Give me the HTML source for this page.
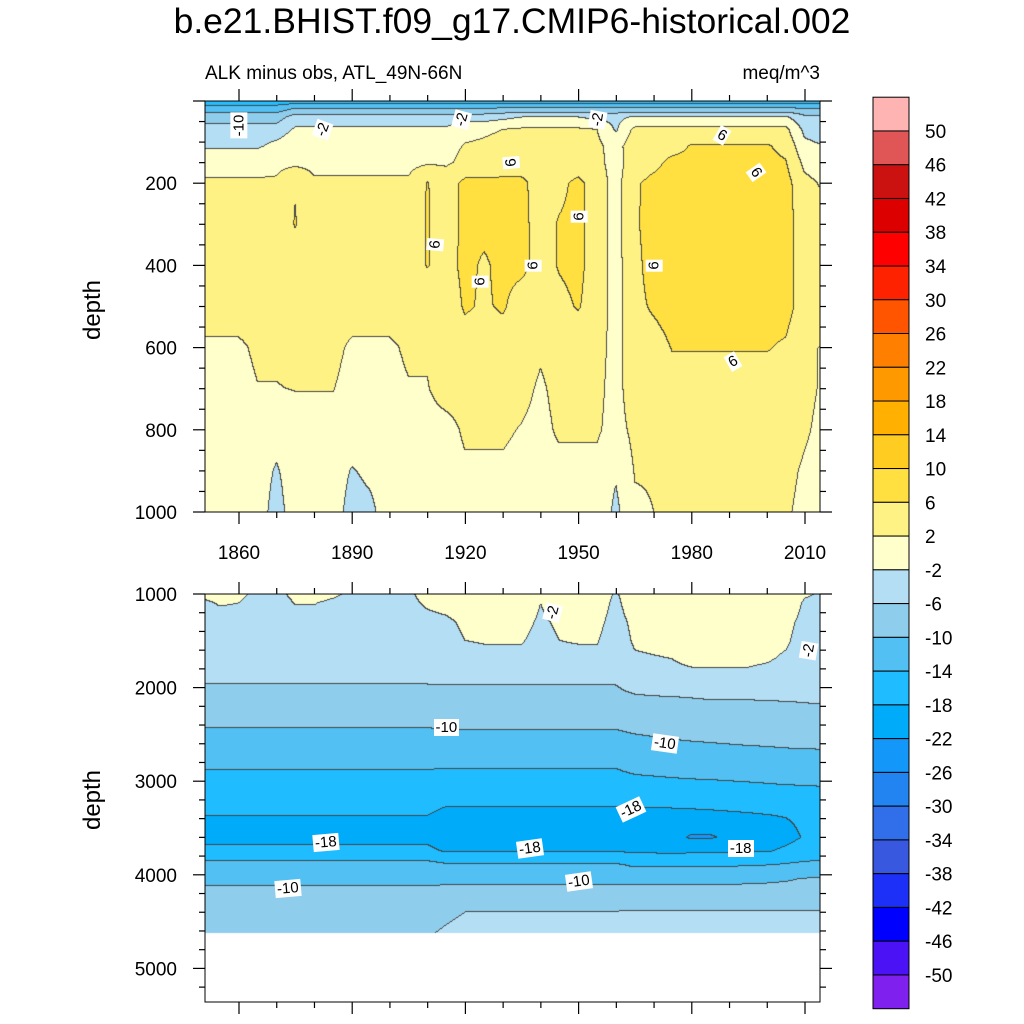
<!DOCTYPE html>
<html><head><meta charset="utf-8">
<style>
body{margin:0;width:1024px;height:1024px;background:#fff;position:relative;overflow:hidden;font-family:"Liberation Sans",sans-serif;}
.t{position:absolute;white-space:nowrap;color:#000;}
canvas{position:absolute;}
.cl{position:absolute;background:#fff;font-size:15px;padding:0 2px;line-height:17px;transform-origin:center;}
</style></head><body>
<div class="t" style="left:0;width:1024px;text-align:center;top:1px;font-size:35.5px;">b.e21.BHIST.f09_g17.CMIP6-historical.002</div>
<div class="t" style="left:205px;top:63px;font-size:19px;">ALK minus obs, ATL_49N-66N</div>
<div class="t" style="right:204px;top:63px;font-size:19px;">meq/m^3</div>
<div class="t" style="left:63px;top:296px;font-size:24px;transform:rotate(-90deg);">depth</div>
<div class="t" style="left:63px;top:786px;font-size:24px;transform:rotate(-90deg);">depth</div>
<canvas id="cTop" width="615" height="411" style="left:205px;top:101px;"></canvas>
<canvas id="cBot" width="615" height="408" style="left:205px;top:594px;"></canvas>
<svg id="ax" width="1024" height="1024" style="position:absolute;left:0;top:0;"></svg>
<div id="labels"></div>
<script>
// ---- colour levels ----
const levels=[-50,-46,-42,-38,-34,-30,-26,-22,-18,-14,-10,-6,-2,2,6,10,14,18,22,26,30,34,38,42,46,50];
const colors=["#8020ee","#4a12f5","#0000ff","#1c30f8","#3858e0","#306eea","#2284f0","#1398fa","#00acfa","#1fbcff","#52c0f2","#8fcdec","#b4def4","#ffffcc","#fff284","#ffe040","#ffcc22","#ffb000","#ff9900","#ff8000","#ff5500","#ff2200","#ff0000","#dd0000","#cc1111","#e05555","#ffb4b4"];
// ---- grid columns: years ----
const years=[1850,1855,1860,1865,1870,1875,1880,1885,1890,1895,1900,1905,1910,1915,1920,1925,1930,1935,1940,1945,1950,1955,1960,1965,1970,1975,1980,1985,1990,1995,2000,2005,2010,2015];
// ---- top panel depths & values ----
const topDepths=[0,15,40,70,110,150,200,300,400,500,600,700,800,900,1000];
const top0=[-17,-17,-17,-17,-17,-17,-17,-17,-17,-17,-17,-17,-17,-17,-17,-17,-17,-17,-17,-17,-17,-17,-17,-17,-17,-17,-17,-17,-17,-17,-17,-17,-17,-17];
const top15=[-13,-13,-13,-13,-13,-11,-11,-11,-11,-11,-11,-11,-11,-11,-11,-11,-11,-11,-11,-11,-11,-11,-11,-11,-11,-11,-11,-11,-11,-11,-11,-11,-11,-11];
const top40=[-8,-8,-8,-8,-8,-4,-4,-4,-4,-4,-4,-4,-4,-4,-4,-4,-3,-2,-2,-2,-2,-3,-3,-1.5,-1.5,-1.5,-1.5,-1.5,-1.5,-1.5,-1.5,-1.5,-5,-5];
const top70=[-4,-4,-4,-4,-4,-1.5,-1.5,-1.5,-1.5,-1.5,-1.5,-1.5,-1.5,-1.5,1,1.5,2,2.5,2.5,2.5,2.5,2,-2.5,3,3,3,3,3,3,3,3,3,-3,-4];
const top110=[-2.5,-2.5,-2.5,-2.5,-1,0.5,0.5,0.5,0.5,0.5,0.5,0.5,0.5,1,2.2,2.5,3,3,3,3,3,2.8,0.5,4.5,4.5,4.5,6.3,6.3,6.3,6.3,6.3,5,-1,-2];
const top150=[0.5,0.5,0.5,0.5,1,1,1,1,1,1,1,1,1.5,1.5,2.8,3,3.5,3.5,3.5,3.5,3.5,3,0.5,4,5,7,7,7,7,7,7,6.2,1,0];
const top200=[2.5,2.5,2.5,2.5,2.5,5.8,2.5,2.5,2.5,2.5,2.5,2.5,6.2,4,7,7,7,7,4,5,7,4,0.5,5.5,7,7.5,7.5,7.5,7.5,7.5,7.5,7.5,3,1.5];
const top300=[3.5,3.5,3.5,3.5,3.5,6.2,3.5,3.5,3.5,3.5,3.5,3.5,6.3,4,7,7,7,7,4.5,6.3,7,4,0.5,5.5,7.5,7.5,7.5,7.5,7.5,7.5,7.5,7.5,4,3.5];
const top400=[4,4,4,4,4,4,4,4,4,4,4,4,6.2,4.5,7,5.5,7,7,4.5,6.3,7,4,0.5,5,7.5,7.5,7.5,7.5,7.5,7.5,7.5,7.5,4,4];
const top500=[3.5,3.5,3.5,3.5,3.5,3.5,3.5,3.5,3.5,3.5,3.5,3.5,3.5,3.5,6.5,5.5,6.5,4,4,5,6.3,4,0.5,5,6.5,7.5,7.5,7.5,7.5,7.5,7.5,7.5,4,3.5];
const top600=[1.5,1.5,1.5,2.5,2.5,2.8,2.8,2.8,1.5,1.5,1.5,2.5,2.5,4,4,4,4,4,2.5,3.5,3.5,3.5,0.5,4.5,4.5,6.2,6.2,6.2,6.2,6.2,6.2,5.5,2.5,1.8];
const top700=[1,1,1,1.9,1.9,2.1,2.1,2.1,1,1,1,1.8,1.8,3.5,3.5,3.5,3.5,3,1.5,3,3,3,0.5,4.5,4.5,4.5,4.5,4.5,4.5,4.5,4.5,4.5,3,1.5];
const top800=[0.8,0.8,0.8,0.8,0,0.8,0.8,0.8,0.8,0.8,0.8,0.8,0.8,0.8,2.5,2.5,2.5,1.8,1,2.5,2.5,2.5,0.5,3,3,4,4,4,4,4,4,4,2.5,1];
const top900=[0.5,0.5,0.5,0.5,-2.5,0.5,0.5,0.5,-2.3,-1,0.5,0.5,0.5,0.5,1.5,1.5,1.5,1,1,1,1,1,-1.5,2.2,2.2,3,3,3,3,3,3,3,1.5,0.5];
const top1000=[0.5,0.5,0.5,0.5,-4,0.5,0.5,0.5,-4,-3,0.5,-0.5,1,1,1,1,1,1,1,1,1,1,-3,1.5,2,2.5,2.5,2.5,2.5,2.5,2.5,2.5,1,0.5];
const topRows=[top0,top15,top40,top70,top110,top150,top200,top300,top400,top500,top600,top700,top800,top900,top1000];
// ---- bottom panel depths & values ----
const botDepths=[1000,1100,1300,1500,1700,1900,2100,2300,2500,2700,2900,3100,3300,3450,3600,3750,3900,4050,4200,4400,4620];
const bot1000=[-1.5,-1,-1.5,-2.5,-2.5,-1.5,-1,-1.5,-2.5,-2.5,-2.5,-2.5,-1,-0.5,0,0.5,0.5,0.5,-1.5,-1,0,0.5,-2.5,1,1,1,1,1,1,1,1,0.5,-1.5,-2.5];
const bot1100=[-2.5,-1.8,-2,-3,-3,-1.9,-1.9,-2.5,-3,-3,-3,-2.8,-1.5,-1,-0.5,0,0.3,0.3,-2,-0.5,0,0,-3,0.5,1,1,1,1,1,1,1,0.5,-2.5,-3];
const bot1300=[-3.5,-3,-3,-3.5,-3.5,-3,-3,-3.5,-3.5,-3.5,-3.5,-3.5,-3,-2.5,-1.5,-1,-1,-1,-2.5,-1.5,-1,-1,-3.5,-1,0,0.3,0.5,0.5,0.5,0.5,0,-1,-3,-3.5];
const bot1500=[-4,-4,-4,-4,-4,-4,-4,-4,-4,-4,-4,-4,-3.8,-3,-2,-1.8,-1.8,-1.8,-3,-2,-1.8,-1.8,-4,-1.5,-1,-0.8,-0.6,-0.5,-0.5,-0.5,-0.8,-1.5,-3.5,-4];
const bot1700=[-4.5,-4.5,-4.5,-4.5,-4.5,-4.5,-4.5,-4.5,-4.5,-4.5,-4.5,-4.5,-4.3,-4,-3,-2.8,-2.8,-2.8,-3.5,-2.8,-2.8,-2.6,-4,-2.5,-2.3,-2,-1.4,-1.4,-1.4,-1.4,-1.7,-2.5,-3.8,-4];
const bot1900=[-5.5,-5.5,-5.5,-5.5,-5.5,-5.5,-5.5,-5.5,-5.5,-5.5,-5.5,-5.5,-5.5,-5.5,-5.5,-5.5,-5.5,-5.5,-5.5,-5.5,-5.5,-5.5,-5.5,-4,-3.5,-2.8,-2.8,-2.8,-2.8,-2.8,-3.2,-4,-4.2,-4.5];
const bot2100=[-7,-7,-7,-7,-7,-7,-7,-7,-7,-7,-7,-7,-7,-6.8,-6.8,-6.8,-6.8,-6.8,-6.8,-6.8,-6.8,-6.8,-6.8,-6.3,-6.1,-6,-5.9,-5.8,-5.8,-5.8,-5.7,-5.7,-5.6,-5.5];
const bot2300=[-9,-9,-9,-9,-9,-9,-9,-9,-9,-9,-9,-9,-9,-8.8,-8.8,-8.8,-8.8,-8.8,-8.8,-8.8,-8.8,-8.8,-8.8,-8,-7.6,-7.4,-7.2,-7,-7,-7,-7,-6.9,-6.8,-6.7];
const bot2500=[-10.5,-10.5,-10.5,-10.5,-10.5,-10.5,-10.5,-10.5,-10.5,-10.5,-10.5,-10.5,-10.5,-10.4,-10.4,-10.4,-10.4,-10.4,-10.4,-10.4,-10.4,-10.4,-10.4,-10,-9.8,-9.6,-9.5,-9.4,-9.3,-9.2,-9.2,-9.1,-9,-9];
const bot2700=[-12.4,-12.4,-12.4,-12.4,-12.4,-12.4,-12.4,-12.4,-12.4,-12.4,-12.4,-12.4,-12.4,-12.3,-12.3,-12.3,-12.3,-12.3,-12.3,-12.3,-12.3,-12.3,-12.3,-11.5,-11.2,-11,-10.8,-10.7,-10.6,-10.5,-10.4,-10.3,-10.3,-10.2];
const bot2900=[-14.2,-14.2,-14.2,-14.2,-14.2,-14.2,-14.2,-14.2,-14.2,-14.2,-14.2,-14.2,-14.2,-14.3,-14.3,-14.3,-14.3,-14.3,-14.3,-14.3,-14.3,-14.3,-14.3,-13.6,-13.4,-13.2,-13,-12.9,-12.8,-12.7,-12.6,-12.5,-12.5,-12.4];
const bot3100=[-16.2,-16.2,-16.2,-16.2,-16.2,-16.2,-16.2,-16.2,-16.2,-16.2,-16.2,-16.2,-16.2,-16.6,-16.6,-16.6,-16.6,-16.6,-16.6,-16.6,-16.6,-16.6,-16.6,-16,-15.8,-15.6,-15.5,-15.4,-15.2,-15,-14.8,-14.6,-14.5,-14.4];
const bot3300=[-17.6,-17.6,-17.6,-17.6,-17.6,-17.6,-17.6,-17.6,-17.6,-17.6,-17.6,-17.6,-17.6,-18.2,-18.2,-18.2,-18.2,-18.2,-18.2,-18.2,-18.2,-18.2,-18.2,-18.2,-18.2,-18.1,-18,-17.9,-17.8,-17.7,-17.6,-17.5,-17,-16.8];
const bot3450=[-18.5,-18.5,-18.5,-18.5,-18.5,-18.5,-18.5,-18.5,-18.5,-18.5,-18.5,-18.5,-18.5,-19,-19,-19,-19,-19,-19,-19,-19,-19,-19,-19.2,-19.3,-19.4,-19.5,-19.3,-19,-18.8,-18.6,-18.3,-17.5,-17.2];
const bot3600=[-18.6,-18.6,-18.6,-18.6,-18.6,-18.6,-18.6,-18.6,-18.6,-18.6,-18.6,-18.6,-18.6,-19.2,-19.2,-19.2,-19.2,-19.2,-19.2,-19.2,-19.2,-19.2,-19.2,-19.8,-20,-20.5,-22.6,-22.5,-21,-20,-19.5,-18.8,-17.8,-17.4];
const bot3750=[-17.5,-17.5,-17.5,-17.5,-17.5,-17.5,-17.5,-17.5,-17.5,-17.5,-17.5,-17.5,-17.5,-18.2,-18.2,-18.2,-18.2,-18.2,-18.2,-18.2,-18.2,-18.2,-18.2,-18.5,-18.6,-18.7,-18.6,-18.5,-18.4,-18.3,-18.2,-17.5,-16.8,-16.5];
const bot3900=[-12.5,-12.5,-12.5,-12.5,-12.5,-12.5,-12.5,-12.5,-12.5,-12.5,-12.5,-12.5,-12.5,-13.5,-13.5,-13.5,-13.5,-13.5,-13.5,-13.5,-13.5,-13.5,-13.5,-14.5,-14.5,-14.5,-14.4,-14.3,-14.3,-14.2,-14,-13.6,-13,-12.8];
const bot4050=[-10.8,-10.8,-10.8,-10.8,-10.8,-10.8,-10.8,-10.8,-10.8,-10.8,-10.8,-10.8,-10.8,-10.8,-10.8,-10.8,-10.8,-10.8,-10.8,-10.8,-10.8,-10.8,-10.8,-11,-11,-11,-11,-11,-10.9,-10.8,-10.6,-10.3,-9.8,-9.5];
const bot4200=[-9.2,-9.2,-9.2,-9.2,-9.2,-9.2,-9.2,-9.2,-9.2,-9.2,-9.2,-9.2,-9.2,-8.8,-8.8,-8.8,-8.8,-8.8,-8.8,-8.8,-8.8,-8.8,-8.8,-8.5,-8.5,-8.5,-8.5,-8.5,-8.5,-8.5,-8.5,-8.5,-8.5,-8.5];
const bot4400=[-7.6,-7.6,-7.6,-7.6,-7.6,-7.6,-7.6,-7.6,-7.6,-7.6,-7.6,-7.6,-7.6,-6.8,-6,-5.9,-5.9,-5.9,-5.9,-5.9,-5.9,-5.9,-5.9,-5.8,-5.8,-5.8,-5.8,-5.8,-5.8,-5.8,-5.8,-5.8,-5.8,-5.8];
const bot4620=[-6.4,-6.4,-6.4,-6.4,-6.4,-6.4,-6.4,-6.4,-6.4,-6.4,-6.4,-6.4,-6.4,-5.5,-4.8,-4.8,-4.8,-4.8,-4.8,-4.8,-4.8,-4.8,-4.8,-4.5,-4.5,-4.5,-4.5,-4.5,-4.5,-4.5,-4.5,-4.5,-4.5,-4.5];
const botRows=[bot1000,bot1100,bot1300,bot1500,bot1700,bot1900,bot2100,bot2300,bot2500,bot2700,bot2900,bot3100,bot3300,bot3450,bot3600,bot3750,bot3900,bot4050,bot4200,bot4400,bot4620];
// ---- tick labels ----
const xTickYears=[1860,1890,1920,1950,1980,2010];
const topYTicks=[200,400,600,800,1000];
const botYTicks=[1000,2000,3000,4000,5000];
const cbLabels=[50,46,42,38,34,30,26,22,18,14,10,6,2,-2,-6,-10,-14,-18,-22,-26,-30,-34,-38,-42,-46,-50];

// ---- axis functions ----
const xOf=yr=>239+(yr-1860)*(805-239)/150;
const yrOfX=x=>1860+(x-239)*150/(805-239);
const yTop=d=>101+d*0.411;
const dTop=y=>(y-101)/0.411;
const yBot=d=>594+(d-1000)*0.0936;
const dBot=y=>1000+(y-594)/0.0936;

function hex(c){return [parseInt(c.substr(1,2),16),parseInt(c.substr(3,2),16),parseInt(c.substr(5,2),16)];}
const rgb=colors.map(hex);
function levIdx(v){let i=0;while(i<levels.length&&v>=levels[i])i++;return i;}
function sample(rows,depths,yr,d){
  let cf=(yr-years[0])/(years[1]-years[0]);cf=Math.max(0,Math.min(years.length-1.0001,cf));
  const c0=Math.floor(cf),ct=cf-c0;
  let r=0;while(r<depths.length-2&&d>depths[r+1])r++;
  let rt=(d-depths[r])/(depths[r+1]-depths[r]);rt=Math.max(0,Math.min(1,rt));
  const a=rows[r][c0]*(1-ct)+rows[r][c0+1]*ct;
  const b=rows[r+1][c0]*(1-ct)+rows[r+1][c0+1]*ct;
  return a*(1-rt)+b*rt;
}
function drawPanel(id,rows,depths,x0,y0,dOfY,maxD){
  const cv=document.getElementById(id),ctx=cv.getContext('2d');
  const W=cv.width,H=cv.height,img=ctx.createImageData(W,H),idx=new Int16Array(W*H);
  for(let j=0;j<H;j++){const d=dOfY(y0+j+0.5);
    for(let i=0;i<W;i++){
      if(d>maxD){idx[j*W+i]=-1;continue;}
      idx[j*W+i]=levIdx(sample(rows,depths,yrOfX(x0+i+0.5),d));}}
  for(let j=0;j<H;j++)for(let i=0;i<W;i++){
    const k=j*W+i,v=idx[k];let c;
    if(v<0)c=[255,255,255];
    else{c=rgb[v];
      const r=i<W-1?idx[k+1]:v,b=j<H-1?idx[k+W]:v;
      if((r!==v&&r>=0)||(b!==v&&b>=0))c=[70,70,70];}
    img.data[k*4]=c[0];img.data[k*4+1]=c[1];img.data[k*4+2]=c[2];img.data[k*4+3]=255;}
  ctx.putImageData(img,0,0);
}
drawPanel('cTop',topRows,topDepths,205,101,dTop,1000);
drawPanel('cBot',botRows,botDepths,205,594,dBot,botDepths[botDepths.length-1]);

// ---- axes (svg) ----
const NS="http://www.w3.org/2000/svg",svg=document.getElementById('ax');
function line(x1,y1,x2,y2,name){const l=document.createElementNS(NS,'line');
  l.setAttribute('x1',x1);l.setAttribute('y1',y1);l.setAttribute('x2',x2);l.setAttribute('y2',y2);
  l.setAttribute('stroke','#000');l.setAttribute('stroke-width','1.2');
  
  
  svg.appendChild(l);}
function rect(x,y,w,h,fill,name){const r=document.createElementNS(NS,'rect');
  r.setAttribute('x',x);r.setAttribute('y',y);r.setAttribute('width',w);r.setAttribute('height',h);
  r.setAttribute('fill',fill);r.setAttribute('stroke','#000');r.setAttribute('stroke-width','1');
  
  
  svg.appendChild(r);}
function text(x,y,s,anchor,name){const t=document.createElementNS(NS,'text');
  t.setAttribute('x',x);t.setAttribute('y',y);t.setAttribute('text-anchor',anchor);
  t.setAttribute('font-size','19');t.setAttribute('font-family','Liberation Sans, sans-serif');
  t.textContent=s;
  
  
  svg.appendChild(t);}
rect(205,101,615,411,'none','top-plot-frame');
rect(205,594,615,408,'none','bottom-plot-frame');
// x ticks
for(let yr=1860;yr<=2010;yr+=10){const x=xOf(yr),maj=(yr-1860)%30===0,L=maj?12:6;
  [[101,-1],[512,1],[594,-1],[1002,1]].forEach(p=>line(x,p[0],x,p[0]+p[1]*L,'x-tick'));}
xTickYears.forEach(yr=>text(xOf(yr),559,String(yr),'middle','x-tick-label'));
// y ticks
for(let d=0;d<=1000;d+=50){const y=yTop(d),L=d%200===0?12:6;line(205,y,205-L,y,'y-tick');line(820,y,820+L,y,'y-tick');}
topYTicks.forEach(d=>text(177,yTop(d)+7,String(d),'end','y-tick-label-top'));
for(let d=1000;d<=5350;d+=200){const y=yBot(d),L=d%1000===0?12:6;line(205,y,205-L,y,'y-tick');line(820,y,820+L,y,'y-tick');}
botYTicks.forEach(d=>text(177,yBot(d)+7,String(d),'end','y-tick-label-bottom'));
// colorbar
const cbTop=97.2,cbH=33.76;
for(let i=0;i<colors.length;i++){
  rect(873,cbTop+i*cbH,36,cbH,colors[colors.length-1-i],'colorbar-box');}
cbLabels.forEach((v,i)=>text(925,cbTop+(i+1)*cbH+7,String(v),'start','colorbar-label'));

// ---- contour labels ----
const clYear=[1860,1882,1919,1955,1932,1912,1938,1924,1950,1970,1988,1997,1991,1943,2011,1915,1973,1964,1883,1937,1993,1873,1950];
const clDepth=[60,70,45,45,150,350,400,440,280,400,85,175,635,1200,1600,2430,2600,3300,3650,3720,3720,4150,4070];
const clPanel=["t","t","t","t","t","t","t","t","t","t","t","t","t","b","b","b","b","b","b","b","b","b","b"];
const clRot=[-90,-70,-75,-80,-95,-85,-90,-90,-90,-90,30,55,-30,-75,-80,0,8,-25,-5,-8,0,-5,-8];
const clTextFull=["-10","-2","-2","-2","6","6","6","6","6","6","6","6","6","-2","-2","-10","-10","-18","-18","-18","-18","-10","-10"];
const holder=document.getElementById('labels');
clTextFull.forEach((s,i)=>{
  const el=document.createElement('div');
  el.className='cl';el.textContent=s;
  
  
  const x=xOf(clYear[i]),y=clPanel[i]==='t'?yTop(clDepth[i]):yBot(clDepth[i]);
  holder.appendChild(el);
  const w=el.offsetWidth,h=el.offsetHeight;
  el.style.left=(x-w/2)+'px';el.style.top=(y-h/2)+'px';
  el.style.transform='rotate('+clRot[i]+'deg)';
});
</script>
</body></html>
